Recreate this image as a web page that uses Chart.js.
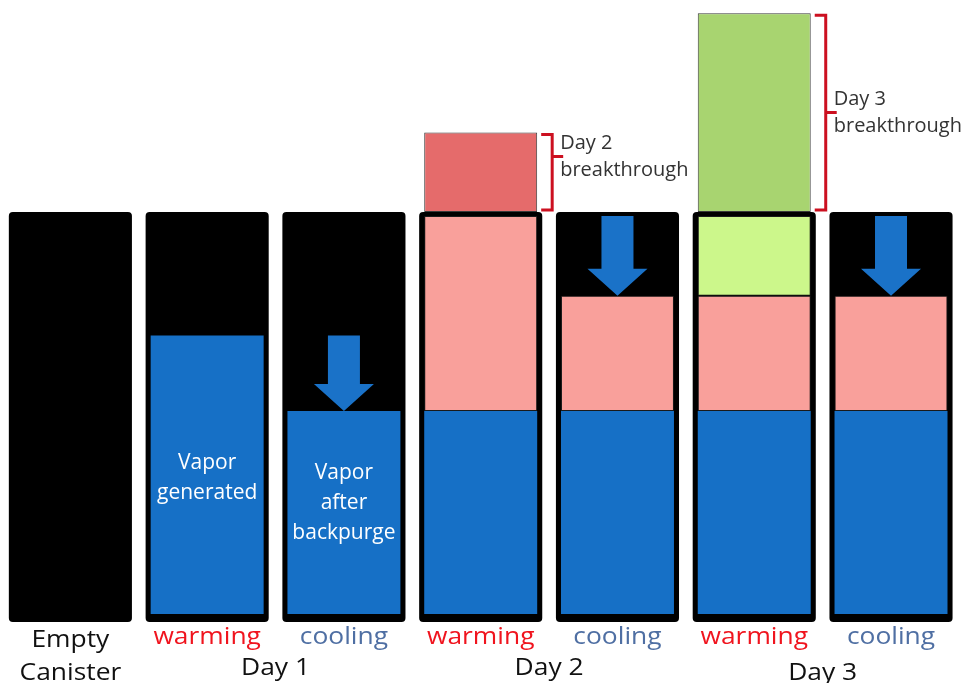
<!DOCTYPE html>
<html>
<head>
<meta charset="utf-8">
<script src="https://cdn.jsdelivr.net/npm/chart.js@4.4.1/dist/chart.umd.min.js"></script>
<style>
  html, body { margin: 0; padding: 0; background: #ffffff; overflow: hidden; }
  #wrap { width: 967px; height: 683px; position: relative; }
</style>
</head>
<body>
<div id="wrap"><canvas id="c"></canvas></div>
<script>
// ---------------- data ----------------
const categories = ['Empty Canister', 'warming', 'cooling', 'warming', 'cooling', 'warming', 'cooling'];
const dayLabels = ['Day 1', 'Day 2', 'Day 3'];
const dayColumns = [[1, 2], [3, 4], [5, 6]];
const capacity = 100;                                      // canister working capacity (%)
const vaporDay1 = [null, 70, 51, 51, 51, 51, 51];          // blue
const vaporDay2 = [null, null, null, 49, 29, 29, 29];      // pink
const vaporDay3 = [null, null, null, null, null, 20, null];// light green
const breakthrough = [null, null, null, 20, null, 50, null];
const arrowFrom = [null, null, 70, null, 100, null, 100];
const arrowTo   = [null, null, 51, null, 80, null, 80];
const vaporLabels = [null, ['Vapor', 'generated'], ['Vapor', 'after', 'backpurge'], null, null, null, null];
const breakthroughLabels = [null, null, null, ['Day 2', 'breakthrough'], null, ['Day 3', 'breakthrough'], null];

// ---------------- style ----------------
const FONT = "'Open Sans', 'Noto Sans', sans-serif";
const C = {
  canister: '#000000', blue: '#1670C6', pink: '#F9A09B', green: '#CCF78B',
  arrow: '#1A72C8', bracket: '#CC1020', warming: '#F0141E', cooling: '#4F6FA3',
  text: '#111111', note: '#333333'
};
const breakthroughColors = [null, null, null, '#E56B6B', null, '#A8D470', null];
const wall = 1;                 // canister wall thickness in value units
const vaporTextAt = {1: 34.3, 2: 28};
const bracketTickFrac = {3: 0.29, 5: 0.5};
const dayBaseline = [675, 675, 680];

function floating(lowArr, valArr) {
  return valArr.map((v, i) => v == null ? null : [lowArr(i), lowArr(i) + v]);
}
const cumBlue = i => 0;
const cumPink = i => vaporDay1[i] || 0;
const cumGreen = i => (vaporDay1[i] || 0) + (vaporDay2[i] || 0);

function drawText(ctx, s, x, y, size, color, sx, baseline) {
  ctx.save();
  ctx.font = size + 'px ' + FONT;
  ctx.fillStyle = color;
  ctx.textAlign = 'center';
  ctx.textBaseline = baseline || 'alphabetic';
  ctx.translate(x, y);
  ctx.scale(sx || 1, 1);
  ctx.fillText(s, 0, 0);
  ctx.restore();
}

const overlay = {
  id: 'overlay',
  afterDatasetsDraw(chart) {
    const ctx = chart.ctx, xs = chart.scales.x, ys = chart.scales.y;
    ctx.save();
    // arrows
    arrowFrom.forEach((from, i) => {
      if (from == null) return;
      const x = xs.getPixelForValue(i);
      const y0 = ys.getPixelForValue(from), y1 = ys.getPixelForValue(arrowTo[i]);
      const hw = 16, hh = 30, hl = 27;
      ctx.beginPath();
      ctx.moveTo(x - hw, y0); ctx.lineTo(x + hw, y0); ctx.lineTo(x + hw, y1 - hl);
      ctx.lineTo(x + hh, y1 - hl); ctx.lineTo(x, y1); ctx.lineTo(x - hh, y1 - hl);
      ctx.lineTo(x - hw, y1 - hl); ctx.closePath();
      ctx.fillStyle = C.arrow; ctx.fill();
    });
    // vapor labels
    vaporLabels.forEach((lines, i) => {
      if (!lines) return;
      const x = xs.getPixelForValue(i);
      const yc = ys.getPixelForValue(vaporTextAt[i]);
      const lh = 30;
      lines.forEach((s, k) => {
        drawText(ctx, s, x, yc + (k - (lines.length - 1) / 2) * lh, 21, '#ffffff', 1, 'middle');
      });
    });
    // brackets for breakthrough
    const meta = chart.getDatasetMeta(4);
    breakthrough.forEach((v, i) => {
      if (v == null) return;
      const el = meta.data[i];
      const bx = el.x + el.width / 2 + 15;
      const top = ys.getPixelForValue(capacity + wall + v) + 2;
      const bot = ys.getPixelForValue(capacity + wall) - 2;
      const ty = top + (bot - top) * bracketTickFrac[i];
      ctx.beginPath();
      ctx.moveTo(bx - 11, top); ctx.lineTo(bx, top); ctx.lineTo(bx, bot); ctx.lineTo(bx - 11, bot);
      ctx.moveTo(bx, ty); ctx.lineTo(bx + 11, ty);
      ctx.strokeStyle = C.bracket; ctx.lineWidth = 3; ctx.lineJoin = 'miter'; ctx.stroke();
      const lines = breakthroughLabels[i];
      ctx.font = '20px ' + FONT; ctx.fillStyle = C.note; ctx.textAlign = 'left'; ctx.textBaseline = 'middle';
      ctx.fillText(lines[0], bx + 8, ty - 13);
      ctx.fillText(lines[1], bx + 8, ty + 14);
    });
    // category labels
    categories.forEach((cat, i) => {
      const x = xs.getPixelForValue(i);
      if (cat === 'warming' || cat === 'cooling') {
        drawText(ctx, cat, x, 644, 24, cat === 'warming' ? C.warming : C.cooling, 1.1);
      } else {
        const parts = cat.split(' ');
        drawText(ctx, parts[0], x, 647, 24, C.text, 1.1);
        drawText(ctx, parts[1], x, 680, 24, C.text, 1.1);
      }
    });
    // day labels
    dayLabels.forEach((d, k) => {
      const [a, b] = dayColumns[k];
      const x = (xs.getPixelForValue(a) + xs.getPixelForValue(b)) / 2;
      drawText(ctx, d, x, dayBaseline[k], 24, C.text, 1.1);
    });
    ctx.restore();
  }
};

function build() {
  new Chart(document.getElementById('c'), {
    type: 'bar',
    data: {
      labels: categories,
      datasets: [
        { label: 'canister', data: categories.map(() => [-2 * wall, capacity + wall]),
          backgroundColor: C.canister, barPercentage: 0.9, categoryPercentage: 1,
          borderRadius: 4, borderSkipped: false, grouped: false, order: 10 },
        { label: 'vapor day 1', data: floating(cumBlue, vaporDay1),
          backgroundColor: C.blue, barPercentage: 0.826, categoryPercentage: 1,
          grouped: false, order: 9 },
        { label: 'vapor day 2', data: floating(cumPink, vaporDay2),
          backgroundColor: C.pink, borderColor: '#1a1a1a', borderWidth: 1, borderSkipped: false,
          barPercentage: 0.826, categoryPercentage: 1, grouped: false, order: 8 },
        { label: 'vapor day 3', data: floating(cumGreen, vaporDay3),
          backgroundColor: C.green, borderColor: '#1a1a1a', borderWidth: 1, borderSkipped: false,
          barPercentage: 0.826, categoryPercentage: 1, grouped: false, order: 7 },
        { label: 'breakthrough', data: floating(() => capacity + wall, breakthrough),
          backgroundColor: breakthroughColors, borderColor: '#3a3a3a', borderWidth: 1, borderSkipped: false,
          barPercentage: 0.826, categoryPercentage: 1, grouped: false, order: 6 }
      ]
    },
    options: {
      responsive: true,
      maintainAspectRatio: false,
      animation: false,
      layout: { padding: { left: 2, right: 7.6, top: 0, bottom: 61 } },
      plugins: { legend: { display: false }, tooltip: { enabled: false } },
      scales: {
        x: { display: false, offset: true, grid: { display: false } },
        y: { display: false, min: -2, max: 154.3, grid: { display: false } }
      }
    },
    plugins: [overlay]
  });
}

if (document.fonts && document.fonts.load) {
  Promise.all([document.fonts.load("20px 'Open Sans'"), document.fonts.load("24px 'Open Sans'")])
    .then(build, build);
} else { build(); }
</script>
</body>
</html>
